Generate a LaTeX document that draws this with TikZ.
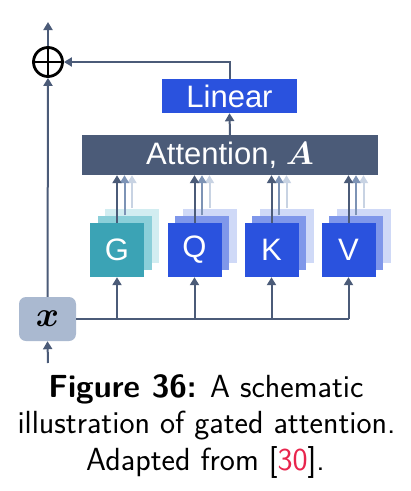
\documentclass[tikz,border=0pt]{standalone}
\usepackage{fontspec}
\usepackage{bm}
\usepackage{graphicx}
\newfontfamily\boxfont{Liberation Sans}
\usetikzlibrary{arrows.meta}
\definecolor{slate}{HTML}{4B5B78}
\definecolor{midarr}{HTML}{7D93B5}
\definecolor{lightarr}{HTML}{C8D3E3}
\definecolor{linblue}{HTML}{2A52DE}
\definecolor{blue2}{HTML}{7F97EA}
\definecolor{blue3}{HTML}{CFD9F7}
\definecolor{teal1}{HTML}{3BA3B5}
\definecolor{teal2}{HTML}{8BCFD9}
\definecolor{teal3}{HTML}{D2EDF1}
\definecolor{xfill}{HTML}{AAB9D0}
\definecolor{citered}{HTML}{E8254D}
\newcommand{\bigmath}[2]{{\fontsize{20}{24}\selectfont\scalebox{#1}{$\bm{#2}$}}}
\begin{document}
\begin{tikzpicture}[x=1pt,y=-1pt,
  txtbox/.style={inner sep=0pt, text=white, font=\boxfont\fontsize{31}{36}\selectfont},
  sq/.style={minimum width=54, minimum height=54, inner sep=0pt, text=white, font=\boxfont\fontsize{31}{36}\selectfont},
  arr/.style={draw=slate, line width=2pt, -{Triangle[length=8pt,width=9pt]}},
  arrm/.style={arr, draw=midarr, -{Triangle[length=8pt,width=9pt,fill=midarr]}},
  arrl/.style={arr, draw=lightarr, -{Triangle[length=8pt,width=9pt,fill=lightarr]}},
  conn/.style={draw=slate, line width=2pt},
  capt/.style={anchor=base, inner sep=0pt, font=\sffamily\fontsize{32}{36}\selectfont}]
\useasboundingbox (0,0) rectangle (411,491);
% main blocks
\node[txtbox, fill=linblue, minimum width=135, minimum height=34] (lin) at (229.5,96) {Linear};
\node[txtbox, fill=slate, minimum width=296, minimum height=40] (att) at (230,155) {Attention, \bigmath{1.55}{A}};
% stacked squares
\foreach \n/\cx/\ca/\cb/\cc/\t in {g/117/teal1/teal2/teal3/G, q/194.5/linblue/blue2/blue3/Q, k/271.5/linblue/blue2/blue3/K, v/348.5/linblue/blue2/blue3/V}{
  \node[sq, fill=\cc] (\n3) at (\cx+15,235.5) {};
  \node[sq, fill=\cb] (\n2) at (\cx+7.5,242.5) {};
  \node[sq, fill=\ca] (\n) at (\cx,250) {\t};
  \draw[arrl] (\n3.north) -- (\n3.north |- att.south);
  \draw[arrm] (\n2.north) -- (\n2.north |- att.south);
  \draw[arr] (\n.north) -- (\n.north |- att.south);
}
% input x
\node[fill=xfill, rounded corners=7pt, minimum width=57, minimum height=44, inner sep=0pt] (xb) at (47.5,319) {\bigmath{1.7}{x}};
\node[circle, draw=black, line width=2.8pt, minimum size=29, inner sep=0pt] (plus) at (48,62) {};
\draw[black, line width=2.8pt] (plus.north) -- (plus.south) (plus.west) -- (plus.east);
\coordinate (out) at (48,22);
\coordinate (in) at (48,363);
\draw[arr] (in) -- (xb.south);
\draw[arr] (xb.north) -- (plus.south);
\draw[arr] (plus.north) -- (out);
\draw[arr] (lin.north) |- (plus.east);
\draw[arr] (att.north) -- (lin.south);
\draw[conn] (xb.east) -- (v.south |- xb.east);
\foreach \n in {g,q,k,v}{
  \draw[arr] (\n.south |- xb.east) -- (\n.south);
}
% caption
\node[capt] (c1) at (206,397) {\textbf{Figure 36:} A schematic};
\node[capt] (c2) at (206.5,433.5) {illustration of gated attention.};
\node[capt] (c3) at (205.5,470) {Adapted from [\textcolor{citered}{30}].};
\end{tikzpicture}
\end{document}
